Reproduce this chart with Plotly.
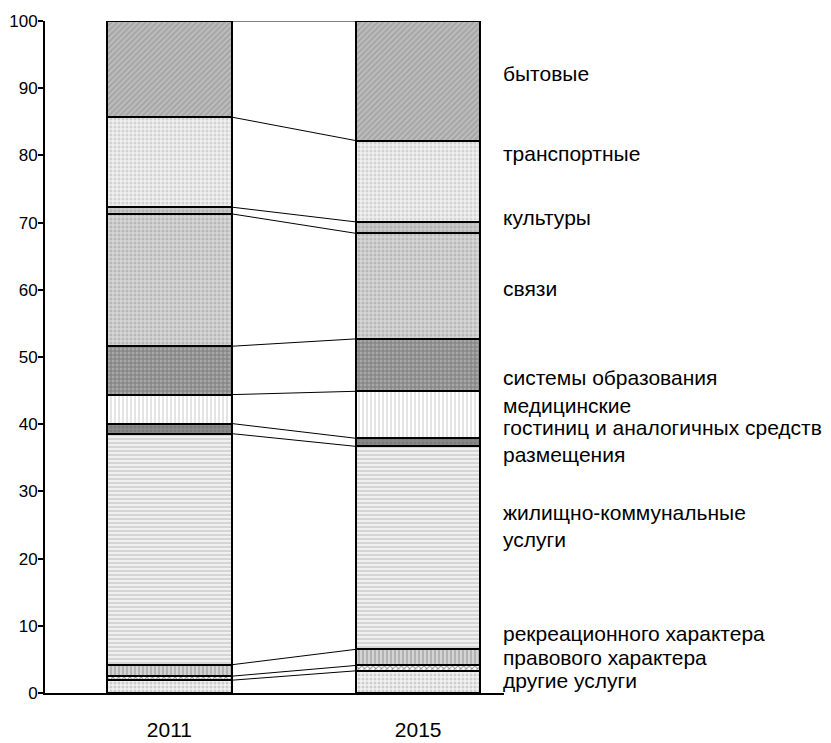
import numpy as np
import plotly.graph_objects as go

# structure of paid services, percent of total
years = ["2011", "2015"]
services = ["другие услуги", "правового характера", "рекреационного характера",
            "жилищно-коммунальные<br>услуги", "гостиниц и аналогичных средств<br>размещения",
            "медицинские", "системы образования", "связи", "культуры",
            "транспортные", "бытовые"]
share_2011 = [1.9, 0.6, 1.7, 34.4, 1.5, 4.3, 7.2, 19.7, 1.0, 13.4, 14.3]
share_2015 = [3.3, 0.8, 2.4, 30.2, 1.2, 7.0, 7.8, 15.7, 1.7, 12.1, 17.8]

# where the right-hand captions sit (y in data units)
label_y = [1.9, 5.3, 8.9, 24.9, 37.5, 42.8, 47.0, 60.2, 70.8, 80.3, 92.2]

# fill textures, one per service (shape, foreground, background)
patterns = [
    (".", "#a8a8a8", "#f2f2f2"),
    ("x", "#202020", "#ffffff"),
    ("|", "#8c8c8c", "#d4d4d4"),
    ("-", "#b4b4b4", "#f0f0f0"),
    (".", "#6a6a6a", "#8a8a8a"),
    ("|", "#c4c4c4", "#ffffff"),
    ("+", "#505050", "#a8a8a8"),
    (".", "#9a9a9a", "#d6d6d6"),
    (".", "#999999", "#cacaca"),
    (".", "#b4b4b4", "#f0f0f0"),
    ("/", "#8a8a8a", "#bcbcbc"),
]

FONT = "Liberation Sans, Arial, sans-serif"
xpos = list(range(len(years)))
bar_w = 0.5

fig = go.Figure()

for i, name in enumerate(services):
    shape, fg, bg = patterns[i]
    fig.add_trace(go.Bar(
        x=xpos, y=[share_2011[i], share_2015[i]], width=bar_w, name=name,
        marker=dict(color=bg, line=dict(color="black", width=2),
                    pattern=dict(shape=shape, fgcolor=fg, bgcolor=bg, size=4, solidity=0.45)),
        showlegend=False, hoverinfo="skip"))

"""
connector lines between the segment borders
"""
cum_2011 = np.cumsum(share_2011)
cum_2015 = np.cumsum(share_2015)
for a, b in zip(cum_2011, cum_2015):
    fig.add_trace(go.Scatter(
        x=[xpos[0] + bar_w / 2, xpos[1] - bar_w / 2], y=[a, b], mode="lines",
        line=dict(color="black", width=1), showlegend=False, hoverinfo="skip"))

for i, name in enumerate(services):
    fig.add_annotation(
        text=name, xref="paper", x=1.0, y=label_y[i], yref="y", xshift=-3,
        xanchor="left", yanchor="middle", align="left", showarrow=False,
        font=dict(family=FONT, size=21, color="black"))

# page body adds 8px, so the figure is 8px smaller than the window
fig.update_layout(
    barmode="stack",
    width=823, height=735,
    autosize=False,
    margin=dict(l=37, r=327, t=13, b=50),
    plot_bgcolor="white", paper_bgcolor="white",
    font=dict(family=FONT, color="black"),
    xaxis=dict(range=[-0.5, 1.345], tickvals=xpos, ticktext=years,
               showline=True, linecolor="black", linewidth=2, showgrid=False,
               zeroline=False, ticks="", ticklabelstandoff=17, automargin=False,
               tickfont=dict(size=21)),
    yaxis=dict(range=[0, 100], dtick=10, showline=True, linecolor="black",
               linewidth=2, showgrid=False, zeroline=False, ticks="outside",
               ticklen=5, tickwidth=1.5, tickcolor="black", automargin=False,
               ticklabelstandoff=-3, tickfont=dict(size=17)),
)

fig.write_html("out.html")
